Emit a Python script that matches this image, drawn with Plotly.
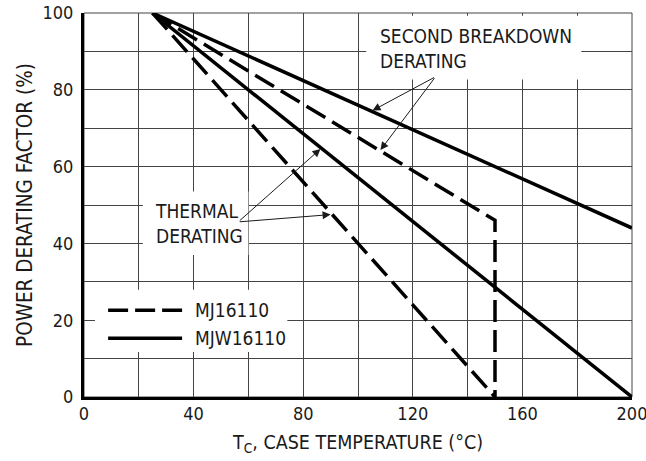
import plotly.graph_objects as go

# ---- data ----
mjw_thermal_t = [25, 200]
mjw_thermal_p = [100, 0]
mjw_sb_t = [25, 200]
mjw_sb_p = [100, 44]
mj_thermal_t = [25, 150]
mj_thermal_p = [100, 0]
mj_sb_t = [25, 150, 150]
mj_sb_p = [100, 46, 0]

x_ticks = [0, 40, 80, 120, 160, 200]
y_ticks = [0, 20, 40, 60, 80, 100]

FONT = "DejaVu Sans Condensed, Liberation Sans Narrow, sans-serif"
INK = "#1a1a1a"
GRID = "#444444"

fig = go.Figure()
line_solid = dict(color="black", width=3.5)
line_dash = dict(color="black", width=3.5, dash="22px,8px")

fig.add_trace(go.Scatter(x=mjw_thermal_t, y=mjw_thermal_p, mode="lines", line=line_solid, name="MJW16110", showlegend=False))
fig.add_trace(go.Scatter(x=mjw_sb_t, y=mjw_sb_p, mode="lines", line=line_solid, name="MJW16110", showlegend=False))
fig.add_trace(go.Scatter(x=mj_thermal_t, y=mj_thermal_p, mode="lines", line=line_dash, name="MJ16110", showlegend=False))
fig.add_trace(go.Scatter(x=mj_sb_t, y=mj_sb_p, mode="lines", line=line_dash, name="MJ16110", showlegend=False))

shapes = []
# frame (thin top/right)
shapes.append(dict(type="rect", xref="x domain", yref="y domain", x0=0, x1=1, y0=0, y1=1,
                   line=dict(color=GRID, width=1), layer="below"))
# white boxes behind labels
def box(x0, x1, y0, y1):
    return dict(type="rect", xref="x", yref="y", x0=x0, x1=x1, y0=y0, y1=y1,
                fillcolor="white", line=dict(width=0), layer="above")
shapes.append(box(103.0, 181.5, 82.7, 99.3))   # second breakdown
shapes.append(box(21.5, 60.0, 37.0, 53.5))     # thermal
shapes.append(box(4.0, 74.2, 11.7, 27.9))      # legend
# legend samples
shapes.append(dict(type="line", xref="x", yref="y", x0=8.8, x1=35.8, y0=22.6, y1=22.6,
                   line=dict(color="black", width=3.5, dash="20px,7px"), layer="above"))
shapes.append(dict(type="line", xref="x", yref="y", x0=8.8, x1=35.8, y0=15.3, y1=15.3,
                   line=dict(color="black", width=3.5), layer="above"))

annotations = []
tfont = dict(family=FONT, size=19, color=INK)
annotations.append(dict(x=107.2, y=90.8, xref="x", yref="y", text="SECOND BREAKDOWN<br>DERATING",
                        showarrow=False, xanchor="left", yanchor="middle", align="left", font=tfont))
annotations.append(dict(x=25.0, y=45.2, xref="x", yref="y", text="THERMAL<br>DERATING",
                        showarrow=False, xanchor="left", yanchor="middle", align="left", font=tfont))
annotations.append(dict(x=39.9, y=22.6, xref="x", yref="y", text="MJ16110",
                        showarrow=False, xanchor="left", yanchor="middle", font=tfont))
annotations.append(dict(x=39.9, y=15.3, xref="x", yref="y", text="MJW16110",
                        showarrow=False, xanchor="left", yanchor="middle", font=tfont))

def arrow(ax, ay, x, y):
    return dict(x=x, y=y, ax=ax, ay=ay, xref="x", yref="y", axref="x", ayref="y", text="",
                showarrow=True, arrowhead=2, arrowsize=1.6, arrowwidth=1, arrowcolor=INK)
annotations.append(arrow(128.3, 83.4, 105.3, 74.6))
annotations.append(arrow(128.3, 83.4, 108.2, 64.3))
annotations.append(arrow(56.3, 45.6, 86.3, 64.6))
annotations.append(arrow(56.3, 45.6, 90.0, 47.5))

fig.update_layout(
    width=646, height=461,
    margin=dict(l=84, r=14, t=13, b=64),
    plot_bgcolor="white", paper_bgcolor="white",
    font=dict(family=FONT, size=18, color=INK),
    shapes=shapes, annotations=annotations,
    xaxis=dict(range=[0, 200], tickvals=x_ticks, showgrid=True, gridcolor=GRID, gridwidth=1,
               minor=dict(dtick=20, tick0=0, showgrid=True, gridcolor=GRID, gridwidth=1),
               showline=True, linecolor="black", linewidth=3, ticks="", zeroline=False,
               automargin=False, ticklabeloverflow="allow",
               ticklabelstandoff=-2, tickfont=dict(family=FONT, size=18, color=INK),
               title=dict(text="T<sub>C</sub>, CASE TEMPERATURE (°C)", standoff=13,
                          font=dict(family=FONT, size=19.5, color=INK))),
    yaxis=dict(range=[0, 100], tickvals=y_ticks, showgrid=True, gridcolor=GRID, gridwidth=1,
               minor=dict(dtick=10, tick0=0, showgrid=True, gridcolor=GRID, gridwidth=1),
               showline=True, linecolor="black", linewidth=3, ticks="", zeroline=False,
               automargin=False, ticklabeloverflow="allow",
               ticklabelstandoff=4, tickfont=dict(family=FONT, size=18, color=INK),
               title=dict(text="POWER DERATING FACTOR (%)", standoff=5,
                          font=dict(family=FONT, size=20.5, color=INK))),
)

fig.write_html("out.html", config={"displayModeBar": False},
               post_script="document.body.style.margin='0';document.body.style.overflow='hidden';")
